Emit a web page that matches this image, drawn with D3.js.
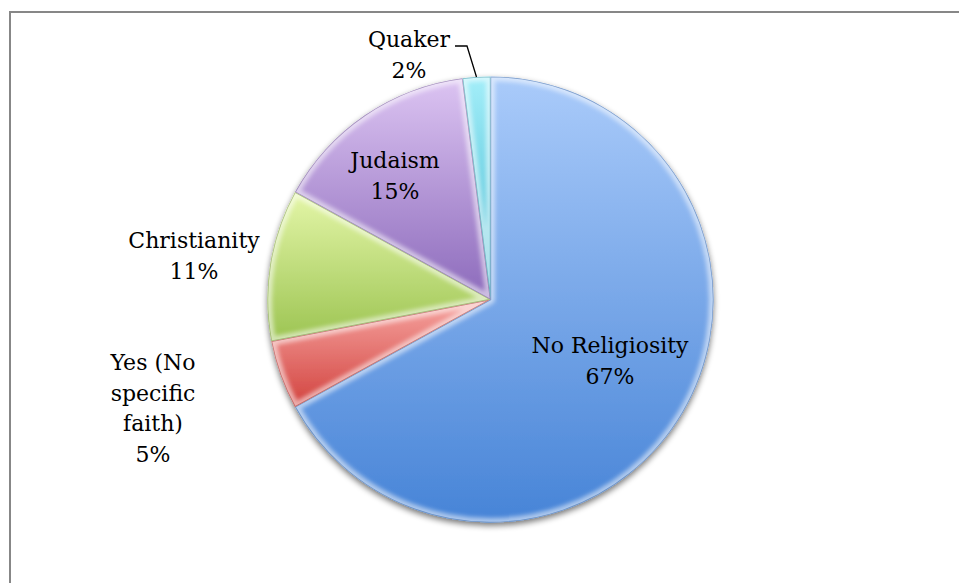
<!DOCTYPE html>
<html>
<head>
<meta charset="utf-8">
<script src="https://cdn.jsdelivr.net/npm/d3@7/dist/d3.min.js"></script>
<style>
  html, body { margin: 0; padding: 0; background: #fff; }
  svg { display: block; }
  text { font-family: "DejaVu Serif", serif; font-size: 22px; fill: #000; }
</style>
</head>
<body>
<svg id="chart" width="959" height="583"></svg>
<script>
// Religiosity share of respondents, clockwise from 12 o'clock
const categories = ["No Religiosity", "Yes (No specific faith)", "Christianity", "Judaism", "Quaker"];
const values = [67, 5, 11, 15, 2];
const labelLines = [
  ["No Religiosity", "67%"],
  ["Yes (No", "specific", "faith)", "5%"],
  ["Christianity", "11%"],
  ["Judaism", "15%"],
  ["Quaker", "2%"]
];
// light (top) and deep (bottom) tone of each slice
const topColors = ["#aacbfa", "#f6a4a0", "#e4f6a8", "#dcc4f2", "#a4eef9"];
const bottomColors = ["#4784d7", "#d2433f", "#9cc452", "#8c6abb", "#3db7cf"];

const W = 959, H = 583;
const cx = 490.5, cy = 299.5, R = 223;

const svg = d3.select("#chart");
const defs = svg.append("defs");

// chart frame (top and left edges visible)
svg.append("rect")
  .attr("x", 10).attr("y", 12).attr("width", 1200).attr("height", 1200)
  .attr("fill", "none").attr("stroke", "#878787").attr("stroke-width", 2);

const data = categories.map((c, i) => ({ name: c, value: values[i], i }));
const pie = d3.pie().value(d => d.value).sort(null);
const arcs = pie(data);
const arc = d3.arc().innerRadius(0).outerRadius(R);

// shadow under the disc
const shadow = defs.append("filter").attr("id", "shadow")
  .attr("x", "-20%").attr("y", "-20%").attr("width", "140%").attr("height", "140%");
shadow.append("feGaussianBlur").attr("in", "SourceAlpha").attr("stdDeviation", 3).attr("result", "b");
shadow.append("feOffset").attr("in", "b").attr("dx", 0).attr("dy", 3).attr("result", "o");
shadow.append("feComponentTransfer").attr("in", "o").attr("result", "s")
  .append("feFuncA").attr("type", "linear").attr("slope", 0.55);
const merge = shadow.append("feMerge");
merge.append("feMergeNode").attr("in", "s");
merge.append("feMergeNode").attr("in", "SourceGraphic");

const soft = defs.append("filter").attr("id", "soft")
  .attr("x", "-10%").attr("y", "-10%").attr("width", "120%").attr("height", "120%");
soft.append("feGaussianBlur").attr("stdDeviation", 2.2);

arcs.forEach((a, i) => {
  const g = defs.append("linearGradient").attr("id", "grad" + i)
    .attr("x1", 0).attr("y1", 0).attr("x2", 0).attr("y2", 1);
  g.append("stop").attr("offset", "0%").attr("stop-color", topColors[i]);
  g.append("stop").attr("offset", "100%").attr("stop-color", bottomColors[i]);
  defs.append("clipPath").attr("id", "clip" + i)
    .append("path").attr("d", arc(a));
});

const pieG = svg.append("g").attr("transform", `translate(${cx},${cy})`);

// base disc carrying the shadow
const base = pieG.append("g").attr("filter", "url(#shadow)");
base.selectAll("path.slice")
  .data(arcs)
  .join("path")
  .attr("class", "slice")
  .attr("d", arc)
  .attr("fill", (d, i) => `url(#grad${i})`);

// bevel: soft light rim inside each slice
const bevel = pieG.append("g");
arcs.forEach((a, i) => {
  const gg = bevel.append("g").attr("clip-path", `url(#clip${i})`);
  gg.append("path")
    .attr("d", arc(a))
    .attr("fill", "none")
    .attr("stroke", "#ffffff")
    .attr("stroke-opacity", 0.55)
    .attr("stroke-width", 9)
    .attr("stroke-linejoin", "round")
    .attr("filter", "url(#soft)");
  gg.append("path")
    .attr("d", arc(a))
    .attr("fill", "none")
    .attr("stroke", d3.color(bottomColors[i]).darker(0.8))
    .attr("stroke-opacity", 0.55)
    .attr("stroke-width", 1.4);
});

// labels
const layout = {
  0: { x: 610, y: 353 },
  1: { x: 153, y: 370 },
  2: { x: 194, y: 248 },
  3: { x: 395, y: 168 },
  4: { x: 409, y: 47 }
};
const lineH = 30.5;
arcs.forEach((a, i) => {
  const p = layout[i];
  const t = svg.append("text").attr("text-anchor", "middle");
  labelLines[i].forEach((ln, k) => {
    t.append("tspan").attr("x", p.x).attr("y", p.y + k * lineH).text(ln);
  });
});

// leader from the Quaker label to its slice
const q = arcs[4];
const qMid = (q.startAngle + q.endAngle) / 2;
const qEdge = [cx + R * Math.sin(qMid), cy - R * Math.cos(qMid)];
svg.append("path")
  .attr("d", d3.line()([[455, 46], [467, 46], qEdge]))
  .attr("fill", "none")
  .attr("stroke", "#000")
  .attr("stroke-width", 1.3);
</script>
</body>
</html>
